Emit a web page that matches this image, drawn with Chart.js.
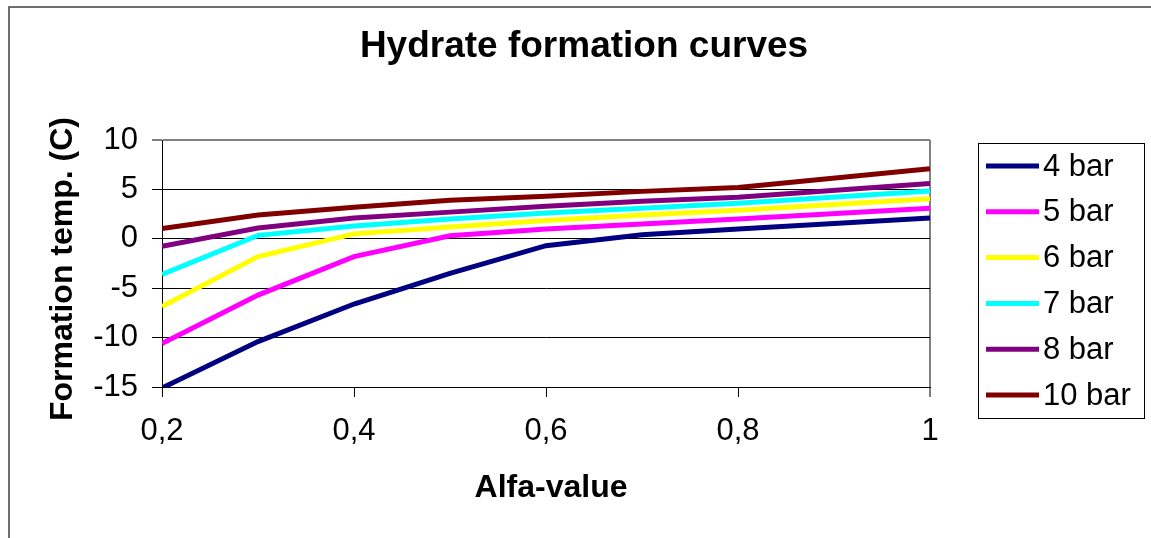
<!DOCTYPE html>
<html lang="en">
<head>
<meta charset="UTF-8">
<title>Hydrate formation curves</title>
<script src="https://cdn.jsdelivr.net/npm/chart.js"></script>
<style>
  html, body { margin: 0; padding: 0; background: #fff; }
</style>
</head>
<body>
<canvas id="myChart" width="1151" height="538"></canvas>
<script>
// data
const alfa = [0.2, 0.3, 0.4, 0.5, 0.6, 0.7, 0.8, 1.0];
const bar4 = [-15.1, -10.4, -6.6, -3.5, -0.7, 0.4, 1.0, 2.1];
const bar5 = [-10.6, -5.7, -1.8, 0.3, 1.0, 1.5, 2.0, 3.1];
const bar6 = [-6.85, -1.8, 0.5, 1.2, 1.85, 2.4, 2.9, 4.05];
const bar7 = [-3.6, 0.35, 1.3, 2.0, 2.6, 3.1, 3.6, 4.85];
const bar8 = [-0.75, 1.1, 2.1, 2.7, 3.3, 3.8, 4.2, 5.6];
const bar10 = [1.05, 2.4, 3.2, 3.9, 4.3, 4.8, 5.2, 7.1];
const seriesNames = ['4 bar', '5 bar', '6 bar', '7 bar', '8 bar', '10 bar'];
const seriesColors = ['#000080', '#ff00ff', '#ffff00', '#00ffff', '#800080', '#800000'];
const yTicks = [-15, -10, -5, 0, 5, 10];

const FONT = '"Liberation Sans", Arial, sans-serif';
Chart.defaults.font.family = FONT;
Chart.defaults.color = '#000';

const todas = [bar4, bar5, bar6, bar7, bar8, bar10];
const datasets = todas.map(function (serie, i) {
  return {
    label: seriesNames[i],
    data: serie.map(function (v, k) { return { x: alfa[k], y: v }; }),
    borderColor: seriesColors[i],
    backgroundColor: seriesColors[i],
    borderWidth: 5,
    pointRadius: 0,
    tension: 0
  };
});

// frame, titles and legend box like the excel chart
const moldura = {
  id: 'moldura',
  beforeDraw(chart) {
    const c = chart.ctx;
    c.save();
    c.strokeStyle = '#404040';
    c.lineWidth = 1.5;
    c.beginPath();
    c.moveTo(9, 538);
    c.lineTo(9, 7);
    c.lineTo(1151, 7);
    c.stroke();
    c.restore();
  },
  afterDraw(chart) {
    const c = chart.ctx;
    c.save();
    c.fillStyle = '#000';

    c.font = 'bold 37px ' + FONT;
    c.textAlign = 'center';
    c.textBaseline = 'alphabetic';
    c.fillText('Hydrate formation curves', 584, 57);

    c.font = 'bold 32px ' + FONT;
    c.fillText('Alfa-value', 551, 497);

    c.save();
    c.translate(72, 269);
    c.rotate(-Math.PI / 2);
    c.fillText('Formation temp. (C)', 0, 0);
    c.restore();

    // legend
    c.fillStyle = '#fff';
    c.fillRect(978.5, 143.5, 166, 275);
    c.strokeStyle = '#000';
    c.lineWidth = 1;
    c.strokeRect(978.5, 143.5, 166, 275);
    c.font = '31px ' + FONT;
    c.textAlign = 'left';
    c.textBaseline = 'middle';
    chart.data.datasets.forEach(function (ds, i) {
      const y = 166 + i * 45.8;
      c.strokeStyle = ds.borderColor;
      c.lineWidth = 5;
      c.beginPath();
      c.moveTo(986, y);
      c.lineTo(1039, y);
      c.stroke();
      c.fillStyle = '#000';
      c.fillText(ds.label, 1043, y + 1);
    });
    c.restore();
  }
};

const ctx = document.getElementById('myChart');
const grafico = new Chart(ctx, {
  type: 'line',
  data: { datasets: datasets },
  options: {
    responsive: false,
    animation: false,
    layout: { padding: { top: 140, left: 0, right: 221, bottom: 0 } },
    plugins: {
      legend: { display: false },
      title: { display: false },
      tooltip: { enabled: false }
    },
    scales: {
      x: {
        type: 'linear',
        min: 0.2,
        max: 1.0,
        ticks: {
          stepSize: 0.2,
          padding: 16,
          font: { size: 31 },
          color: '#000',
          callback: function (v) { return Number(v.toFixed(1)).toString().replace('.', ','); }
        },
        grid: {
          color: function (g) { return g.tick && Math.abs(g.tick.value - 1) < 1e-6 ? '#808080' : 'rgba(0,0,0,0)'; },
          lineWidth: function (g) { return g.tick && Math.abs(g.tick.value - 1) < 1e-6 ? 2 : 1; },
          tickColor: '#000',
          tickLength: 10,
          tickWidth: 1
        },
        border: { color: '#000', width: 1 },
        afterFit: function (s) { s.height = 151; }
      },
      y: {
        min: -15,
        max: 10,
        afterBuildTicks: function (s) { s.ticks = yTicks.map(function (v) { return { value: v }; }); },
        ticks: {
          padding: 14,
          font: { size: 31 },
          color: '#000'
        },
        grid: {
          color: function (g) { return g.tick && g.tick.value === 10 ? '#808080' : '#000'; },
          lineWidth: function (g) { return g.tick && g.tick.value === 10 ? 2 : 1; },
          tickColor: '#000',
          tickLength: 10,
          tickWidth: 1
        },
        border: { color: '#000', width: 1 },
        afterFit: function (s) { s.width = 162; }
      }
    }
  },
  plugins: [moldura]
});
</script>
</body>
</html>
